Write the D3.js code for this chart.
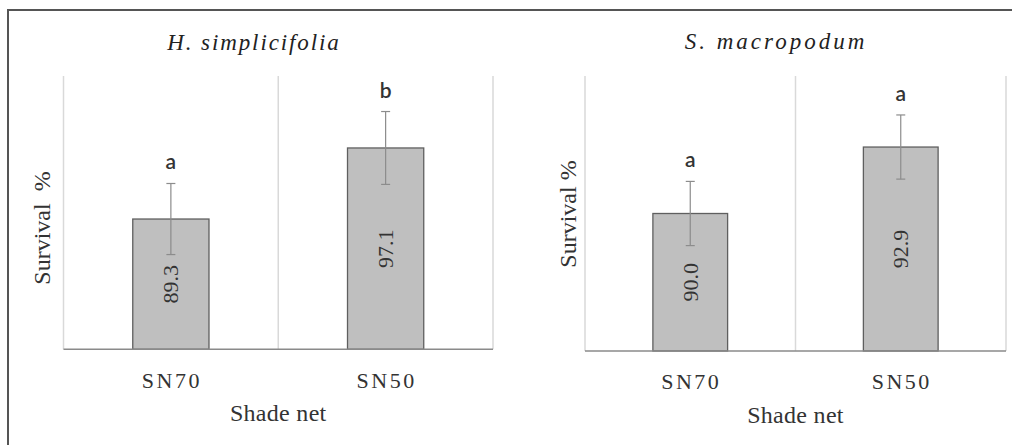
<!DOCTYPE html>
<html>
<head>
<meta charset="utf-8">
<script src="https://cdn.jsdelivr.net/npm/d3@7"></script>
<style>
  html, body { margin: 0; padding: 0; background: #fff; }
  svg { display: block; }
  text { white-space: pre; }
</style>
</head>
<body>
<svg id="chart" width="1012" height="445"></svg>
<script>
// ---- data ----
const panelTitles = ["H. simplicifolia", "S. macropodum"];
const categories = ["SN70", "SN50"];
const hValues = [89.3, 97.1];
const hErrors = [3.9, 4.0];
const hLetters = ["a", "b"];
const sValues = [90.0, 92.9];
const sErrors = [1.4, 1.4];
const sLetters = ["a", "a"];
const hDomain = [75, 105];
const sDomain = [84, 96];
const yAxisTitles = ["Survival  %", "Survival %"];
const xAxisTitle = "Shade net";

// ---- layout ----
const layouts = [
  { x0: 63.5, x1: 493, top: 76, base: 349.3, titleX: 254, titleY: 50, titleSp: 1.9, yLabX: 42, yLabY: 228, catY: 388, xTitleY: 421 },
  { x0: 585, x1: 1006, top: 76, base: 351, titleX: 776, titleY: 49, titleSp: 3.0, yLabX: 568, yLabY: 214, catY: 389, xTitleY: 423 }
];
const series = [
  { values: hValues, errors: hErrors, letters: hLetters, domain: hDomain },
  { values: sValues, errors: sErrors, letters: sLetters, domain: sDomain }
];

const svg = d3.select("#chart");
svg.append("rect").attr("width", 1012).attr("height", 445).attr("fill", "#fff");

// outer frame (top + left edges visible)
svg.append("path")
  .attr("d", "M8,445 L8,10 L1012,10")
  .attr("fill", "none").attr("stroke", "#555").attr("stroke-width", 2);

const serif = "'Liberation Serif', 'Times New Roman', serif";
const sans = "Lato, 'Open Sans', sans-serif";

series.forEach((s, i) => {
  const L = layouts[i];
  const g = svg.append("g");
  const x = d3.scaleBand().domain(categories).range([L.x0, L.x1]).paddingInner(0).paddingOuter(0);
  const y = d3.scaleLinear().domain(s.domain).range([L.base, L.top]);
  const barW = x.bandwidth() * 0.355;

  // vertical gridlines at category boundaries
  const bounds = categories.map(c => x(c)).concat([x(categories[categories.length - 1]) + x.bandwidth()]);
  g.selectAll("line.grid").data(bounds).enter().append("line")
    .attr("x1", d => d).attr("x2", d => d)
    .attr("y1", y(s.domain[1])).attr("y2", y(s.domain[0]))
    .attr("stroke", "#d9d9d9").attr("stroke-width", 1.5);

  // bars
  g.selectAll("rect.bar").data(s.values).enter().append("rect")
    .attr("x", (d, j) => x(categories[j]) + x.bandwidth() / 2 - barW / 2)
    .attr("width", barW)
    .attr("y", d => y(d))
    .attr("height", d => y(s.domain[0]) - y(d))
    .attr("fill", "#bfbfbf").attr("stroke", "#5f5f5f").attr("stroke-width", 1.3);

  // baseline axis
  g.append("line")
    .attr("x1", L.x0).attr("x2", L.x1)
    .attr("y1", y(s.domain[0])).attr("y2", y(s.domain[0]))
    .attr("stroke", "#8a8a8a").attr("stroke-width", 1.5);

  // error bars
  s.values.forEach((v, j) => {
    const cx = x(categories[j]) + x.bandwidth() / 2;
    const e = s.errors[j];
    g.append("line").attr("x1", cx).attr("x2", cx).attr("y1", y(v + e)).attr("y2", y(v - e))
      .attr("stroke", "#8c8c8c").attr("stroke-width", 1.2);
    [v + e, v - e].forEach(t => {
      g.append("line").attr("x1", cx - 4.5).attr("x2", cx + 4.5).attr("y1", y(t)).attr("y2", y(t))
        .attr("stroke", "#8c8c8c").attr("stroke-width", 1.2);
    });
    // significance letter
    g.append("text").attr("x", cx).attr("y", y(v + e) - 14)
      .attr("text-anchor", "middle").attr("font-family", sans).attr("font-size", 21)
      .attr("font-weight", 600).attr("fill", "#333").text(s.letters[j]);
    // value label inside bar (rotated)
    const cy = (y(v) + y(s.domain[0])) / 2;
    g.append("text").attr("transform", `translate(${cx + 7.5},${cy}) rotate(-90)`)
      .attr("text-anchor", "middle").attr("font-family", serif).attr("font-size", 22)
      .attr("fill", "#333").text(d3.format(".1f")(v));
  });

  // category labels
  g.selectAll("text.cat").data(categories).enter().append("text")
    .attr("x", d => x(d) + x.bandwidth() / 2 + 1).attr("y", L.catY)
    .attr("text-anchor", "middle").attr("font-family", serif).attr("font-size", 22)
    .attr("letter-spacing", 2.5).attr("fill", "#333").text(d => d);

  // x axis title
  g.append("text").attr("x", (L.x0 + L.x1) / 2).attr("y", L.xTitleY)
    .attr("text-anchor", "middle").attr("font-family", serif).attr("font-size", 24)
    .attr("letter-spacing", 0.3).attr("fill", "#333").text(xAxisTitle);

  // y axis title
  g.append("text").attr("transform", `translate(${L.yLabX + 8},${L.yLabY}) rotate(-90)`)
    .attr("text-anchor", "middle").attr("font-family", serif).attr("font-size", 24)
    .attr("fill", "#333").text(yAxisTitles[i]);

  // panel title
  g.append("text").attr("x", L.titleX).attr("y", L.titleY)
    .attr("text-anchor", "middle").attr("font-family", serif).attr("font-style", "italic")
    .attr("font-size", 23).attr("letter-spacing", L.titleSp).attr("fill", "#222").text(panelTitles[i]);
});
</script>
</body>
</html>
